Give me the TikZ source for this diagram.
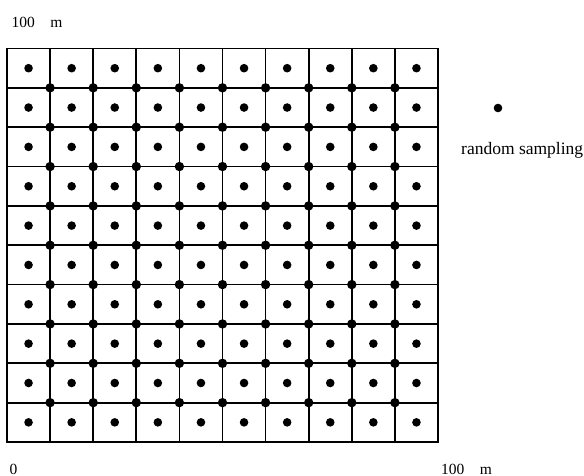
\documentclass[tikz,border=0pt]{standalone}
\usepackage{fontspec}
\setmainfont{Liberation Serif}
\usepackage{tikz}
\usetikzlibrary{positioning}
\tikzset{
  gridline/.style={line width=1.7pt, draw=black, line cap=rect},
  celldot/.style={circle, fill=black, inner sep=0pt, minimum size=8.6pt},
  crossdot/.style={circle, fill=black, inner sep=0pt, minimum size=9.4pt},
  axislabel/.style={anchor=base west, inner sep=0pt, font=\fontsize{15.5}{18}\selectfont},
}

\begin{document}
\begin{tikzpicture}[x=1pt, y=-1pt]
  \useasboundingbox (0,0) rectangle (584,476);
  % plot grid
  \foreach \i in {0,...,10} {
    \draw[gridline] ({7+43.1*\i},48.5) -- ({7+43.1*\i},442);
    \draw[gridline] (7,{48.5+39.35*\i}) -- (438,{48.5+39.35*\i});
  }
  % sample points in every cell
  \foreach \i in {0,...,9}
    \foreach \j in {0,...,9}
      \node[celldot] (c\i-\j) at ({28.55+43.1*\i},{68.2+39.35*\j}) {};
  % points on the inner crossings
  \foreach \i in {1,...,9}
    \foreach \j in {1,...,9}
      \node[crossdot] (x\i-\j) at ({7+43.1*\i},{48.5+39.35*\j}) {};
  % legend
  \node[celldot] (legdot) at (498,108) {};
  \node[axislabel, font=\fontsize{17.5}{20}\selectfont] (legtext) at (461,155) {random sampling};
  % axis labels
  \node[axislabel] (ytop) at (11.5,27.3) {100\hspace{1em}m};
  \node[axislabel] (orig) at (9.5,474) {0};
  \node[axislabel] (xend) at (441,474) {100\hspace{1em}m};
\end{tikzpicture}
\end{document}
